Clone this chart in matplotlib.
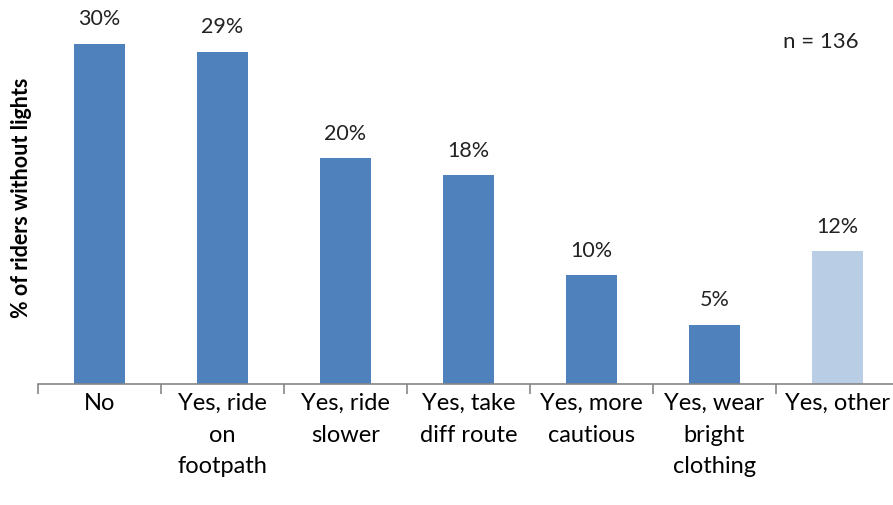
import matplotlib.pyplot as plt

categories = ["No", "Yes, ride\non\nfootpath", "Yes, ride\nslower", "Yes, take\ndiff route",
              "Yes, more\ncautious", "Yes, wear\nbright\nclothing", "Yes, other"]
values = [30.0, 29.3, 19.9, 18.4, 9.6, 5.2, 11.7]
labels = ["30%", "29%", "20%", "18%", "10%", "5%", "12%"]
colors = ["#4F81BD"] * 6 + ["#B9CDE5"]

plt.rcParams['font.family'] = ['Lato', 'DejaVu Sans']

fig = plt.figure(figsize=(8.93, 5.06), dpi=100)
W, H = 893, 506
base, top = 385, 11
ymax = 30 * (base - top) / (385 - 45)
ax = fig.add_axes([38 / W, (H - base) / H, (899 - 38) / W, (base - top) / H])

x = range(len(categories))
ax.bar(x, values, width=0.41, color=colors)
for i, v in enumerate(values):
    ax.annotate(labels[i], (i, v), xytext=(0, 18.5), textcoords='offset points',
                ha='center', va='center', fontsize=15.5, color='#222222')

ax.set_xlim(-0.5, 6.5)
ax.set_ylim(0, ymax)
for s in ['top', 'right', 'left']:
    ax.spines[s].set_visible(False)
ax.spines['bottom'].set_color('#868686')
ax.spines['bottom'].set_linewidth(1.2)
ax.set_yticks([])
ax.set_xticks([i - 0.5 for i in range(7)], minor=False)
ax.set_xticklabels([])
ax.tick_params(axis='x', which='major', length=7, color='#868686', width=1.2)
ax.set_xticks(list(x), minor=True)
ax.set_xticklabels(categories, minor=True, fontsize=17, linespacing=1.6, va='top')
ax.tick_params(axis='x', which='minor', length=0, pad=6)
ax.set_ylabel("% of riders without lights", fontsize=15.5, fontweight='bold', labelpad=4)
fig.text(821 / W, 1 - 42 / H, "n = 136", ha='center', va='center', fontsize=16, color='#222222')

fig.savefig("out.png", dpi=100)
